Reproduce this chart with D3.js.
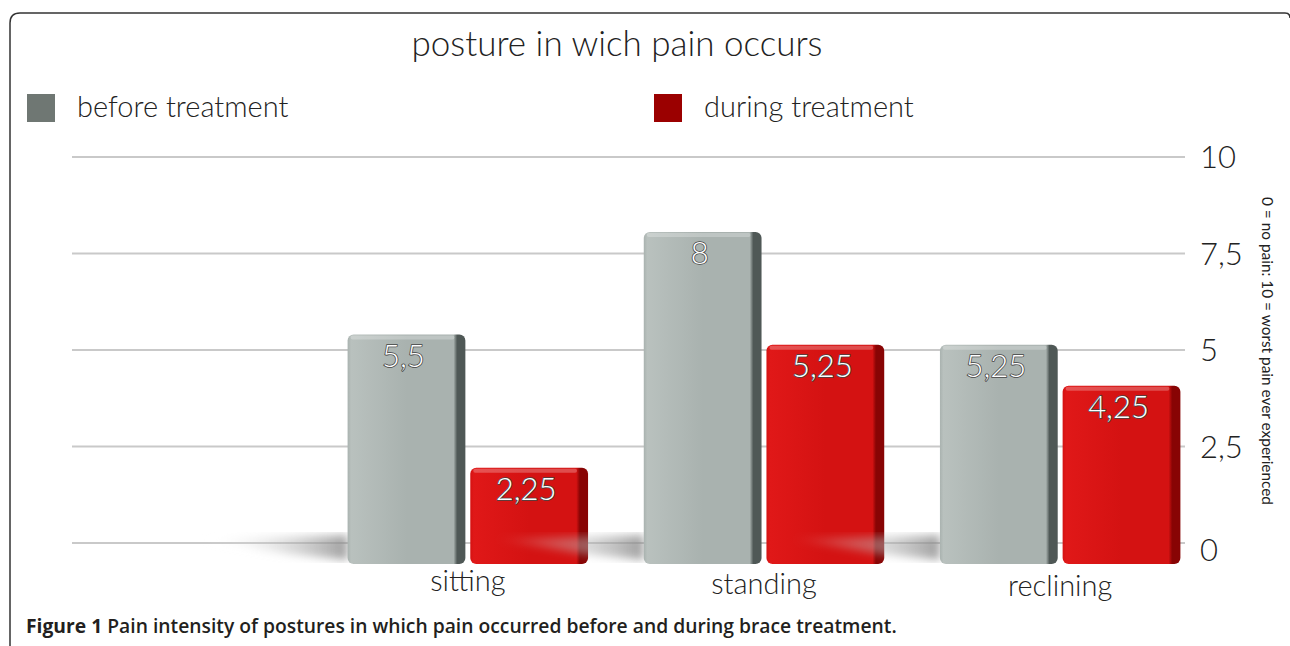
<!DOCTYPE html>
<html>
<head>
<meta charset="utf-8">
<script src="https://cdn.jsdelivr.net/npm/d3@7"></script>
<style>
  body { margin: 0; background: #fff; }
  svg { display: block; }
  .light { font-family: Lato, "Open Sans", sans-serif; font-weight: 300; fill: #222; }
  .caption { font-family: "Open Sans", sans-serif; fill: #231f20; }
</style>
</head>
<body>
<svg id="chart" width="1290" height="646"></svg>
<script>
// data
const categories = ['sitting', 'standing', 'reclining'];
const seriesNames = ['before treatment', 'during treatment'];
const beforeValues = [5.5, 8, 5.25];
const duringValues = [2.25, 5.25, 4.25];
const tickValues = [0, 2.5, 5, 7.5, 10];

const svg = d3.select('#chart');
const W = 1290, H = 646;

const colors = {
    before: { front: '#a9b2af', light: '#b9c1be', edge: '#4f5856', legend: '#6f7773' },
    during: { front: '#d41212', light: '#e01818', edge: '#880404', legend: '#9b0000' }
};

// frame
svg.append('path')
    .attr('d', `M10,${H + 2} L10,23 Q10,13 20,13 L1285,13 Q1290,13 1290,18`)
    .attr('fill', 'none')
    .attr('stroke', '#333')
    .attr('stroke-width', 1.5);

// scales: back wall grid and front face of the bars
const gridY = d3.scaleLinear().domain([0, 10]).range([543, 157]);
const barY = d3.scaleLinear().domain([0, 10]).range([560, 150]);
const x0 = d3.scaleBand().domain(categories).range([319, 1209]).paddingInner(0.155).paddingOuter(0.08);
const x1 = d3.scaleBand().domain(seriesNames).range([0, x0.bandwidth()]).padding(0.04);

const defs = svg.append('defs');
['before', 'during'].forEach(key => {
    const g = defs.append('linearGradient').attr('id', 'grad-' + key)
        .attr('x1', 0).attr('x2', 1).attr('y1', 0).attr('y2', 0);
    g.append('stop').attr('offset', '0%').attr('stop-color', colors[key].front);
    g.append('stop').attr('offset', '3%').attr('stop-color', colors[key].light);
    g.append('stop').attr('offset', '50%').attr('stop-color', colors[key].front);
    g.append('stop').attr('offset', '90%').attr('stop-color', colors[key].front);
    g.append('stop').attr('offset', '93%').attr('stop-color', colors[key].edge);
    g.append('stop').attr('offset', '100%').attr('stop-color', colors[key].edge);
});
const shadowGrad = defs.append('linearGradient').attr('id', 'shadow')
    .attr('x1', 0).attr('x2', 1).attr('y1', 0).attr('y2', 0);
shadowGrad.append('stop').attr('offset', '0%').attr('stop-color', '#fff').attr('stop-opacity', 0);
shadowGrad.append('stop').attr('offset', '100%').attr('stop-color', '#888').attr('stop-opacity', 0.8);
defs.append('filter').attr('id', 'blur').append('feGaussianBlur').attr('stdDeviation', 4);

// title
svg.append('text').attr('class', 'light')
    .attr('x', 617).attr('y', 56)
    .attr('text-anchor', 'middle')
    .style('font-size', '35px')
    .text('posture in wich pain occurs');

// legend
const legendX = [27, 654];
const legend = svg.append('g').selectAll('g')
    .data(seriesNames)
    .join('g')
    .attr('transform', (d, i) => `translate(${legendX[i]},94)`);
legend.append('rect')
    .attr('width', 28).attr('height', 28)
    .attr('fill', (d, i) => i === 0 ? colors.before.legend : colors.during.legend);
legend.append('text').attr('class', 'light')
    .attr('x', 50).attr('y', 23)
    .style('font-size', '29px')
    .text(d => d);

// grid lines
svg.append('g').selectAll('line')
    .data(tickValues)
    .join('line')
    .attr('x1', 72).attr('x2', 1185)
    .attr('y1', d => gridY(d)).attr('y2', d => gridY(d))
    .attr('stroke', '#c9c9c9')
    .attr('stroke-width', 2);

// y axis on the right
const yAxis = svg.append('g')
    .attr('transform', 'translate(1200,0)')
    .call(d3.axisRight(gridY).tickValues(tickValues).tickSize(0)
        .tickFormat(d => String(d).replace('.', ',')));
yAxis.select('.domain').remove();
yAxis.selectAll('text')
    .attr('class', 'light')
    .attr('x', 0)
    .attr('dy', '0.35em')
    .attr('transform', (d) => d === 0 ? 'translate(0,7)' : null)
    .style('font-size', '31px')
    .style('font-family', 'Lato, "Open Sans", sans-serif')
    .style('font-weight', 300)
    .attr('fill', '#222');

// rotated scale note
svg.append('text')
    .attr('transform', 'translate(1262,197) rotate(90)')
    .style('font-family', 'Lato, "Open Sans", sans-serif')
    .style('font-size', '15.4px')
    .attr('fill', '#222')
    .text('0 = no pain: 10 = worst pain ever experienced');

// bars
const rows = categories.map((c, i) => ({ category: c, values: [beforeValues[i], duringValues[i]] }));
const groups = svg.append('g').selectAll('g')
    .data(rows)
    .join('g')
    .attr('transform', d => `translate(${x0(d.category)},0)`);

// floor shadow cast to the left
groups.append('path')
    .attr('d', () => {
        const x = x1(seriesNames[0]);
        return `M${x - 150},${gridY(0) - 4} L${x},${gridY(0) - 8} L${x},${barY(0)} L${x - 60},${barY(0) - 6} Z`;
    })
    .attr('fill', 'url(#shadow)')
    .attr('filter', 'url(#blur)');

const bars = groups.selectAll('g.bar')
    .data(d => d.values.map((v, i) => ({ key: i === 0 ? 'before' : 'during', series: seriesNames[i], value: v })))
    .join('g')
    .attr('class', 'bar');

bars.append('rect')
    .attr('x', d => x1(d.series))
    .attr('y', d => barY(d.value))
    .attr('width', x1.bandwidth())
    .attr('height', d => barY(0) - barY(d.value) + 4)
    .attr('rx', 6)
    .attr('fill', d => `url(#grad-${d.key})`);

// top highlight
bars.append('rect')
    .attr('x', d => x1(d.series) + 3)
    .attr('y', d => barY(d.value) + 1)
    .attr('width', x1.bandwidth() - 14)
    .attr('height', 4)
    .attr('rx', 2)
    .attr('fill', '#fff')
    .attr('opacity', 0.25);

// value labels
bars.append('text')
    .attr('x', d => x1(d.series) + x1.bandwidth() / 2 - 3)
    .attr('y', d => barY(d.value) + 32)
    .attr('text-anchor', 'middle')
    .style('font-family', 'Lato, "Open Sans", sans-serif')
    .style('font-weight', 300)
    .style('font-size', '31px')
    .attr('fill', '#fff')
    .attr('stroke', '#444')
    .attr('stroke-width', 1.6)
    .style('paint-order', 'stroke')
    .text(d => String(d.value).replace('.', ','));

// category labels
const labelDy = [583, 586, 588];
groups.append('text').attr('class', 'light')
    .attr('x', x0.bandwidth() / 2)
    .attr('y', (d, i) => labelDy[i] + 8)
    .attr('text-anchor', 'middle')
    .style('font-size', '29px')
    .text(d => d.category);

// caption
const cap = svg.append('text').attr('class', 'caption')
    .attr('x', 26).attr('y', 633)
    .style('font-size', '19.3px');
cap.append('tspan').style('font-weight', 700).text('Figure 1');
cap.append('tspan').style('font-weight', 600).text(' Pain intensity of postures in which pain occurred before and during brace treatment.');
</script>
</body>
</html>
